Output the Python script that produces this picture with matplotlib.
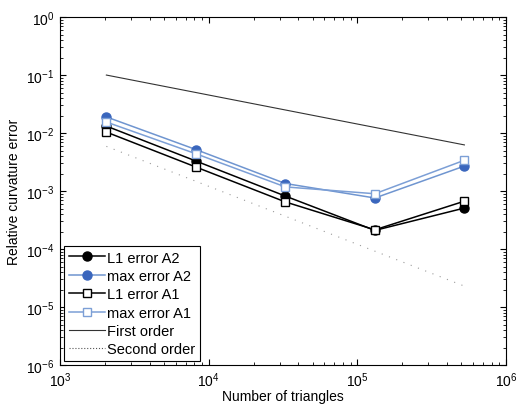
import numpy as np
import matplotlib.pyplot as plt

plt.rcParams['font.family'] = ['Liberation Sans', 'DejaVu Sans']
plt.rcParams['mathtext.fontset'] = 'custom'
plt.rcParams['mathtext.rm'] = 'Liberation Sans'

# number of triangles
n_tri = [2048, 8192, 32768, 131072, 524288]

l1_a2 = [1.32e-2, 3.3e-3, 8.2e-4, 2.1e-4, 5.1e-4]
max_a2 = [1.9e-2, 5.2e-3, 1.35e-3, 7.6e-4, 2.7e-3]
l1_a1 = [1.04e-2, 2.6e-3, 6.5e-4, 2.15e-4, 6.7e-4]
max_a1 = [1.55e-2, 4.4e-3, 1.18e-3, 9.0e-4, 3.4e-3]

# reference slopes
ref_x = [2048, 524288]
first_order = [1.0e-1, 6.25e-3]
second_order = [5.9e-3, 2.3e-5]

fig = plt.figure(figsize=(5.18, 4.10), dpi=100)
ax = fig.add_axes([0.116, 0.107, 0.861, 0.849])

ax.plot(n_tri, l1_a2, color='black', marker='o', ms=6.5, lw=1.1, label='L1 error A2')
ax.plot(n_tri, max_a2, color='#6f95d0', marker='o', ms=6.5, lw=1.1,
        mfc='#3a66bd', mec='#3a66bd', label='max error A2')
ax.plot(n_tri, l1_a1, color='black', marker='s', ms=6, lw=1.1,
        mfc='white', mec='black', label='L1 error A1')
ax.plot(n_tri, max_a1, color='#7c9fd6', marker='s', ms=6, lw=1.1,
        mfc='white', mec='#7c9fd6', label='max error A1')
ax.plot(ref_x, first_order, color='#333333', lw=0.8, label='First order')
ax.plot(ref_x, second_order, color='#9a9a9a', lw=0.8, ls=(0, (1, 6)),
        label='Second order')

ax.set_xscale('log')
ax.set_yscale('log')
ax.set_xlim(1e3, 1e6)
ax.set_ylim(1e-6, 1e0)
ax.tick_params(which='both', direction='in', top=True, right=True, labelsize=10)
ax.tick_params(which='major', length=4, pad=4)
ax.tick_params(which='minor', length=2)
ax.set_xlabel('Number of triangles', fontsize=10, labelpad=0)
ax.set_ylabel('Relative curvature error', fontsize=10, labelpad=4)

leg = ax.legend(loc='lower left', fontsize=10.5, fancybox=False, edgecolor='black',
                framealpha=1, borderaxespad=0.3, handlelength=2.5,
                handletextpad=0.15, labelspacing=0.3, borderpad=0.3)
leg.get_frame().set_linewidth(0.8)
# make the dotted legend entry readable
leg.get_lines()[5].set_linestyle(':')
leg.get_lines()[5].set_color('#555555')

fig.savefig('out.png', dpi=100)
